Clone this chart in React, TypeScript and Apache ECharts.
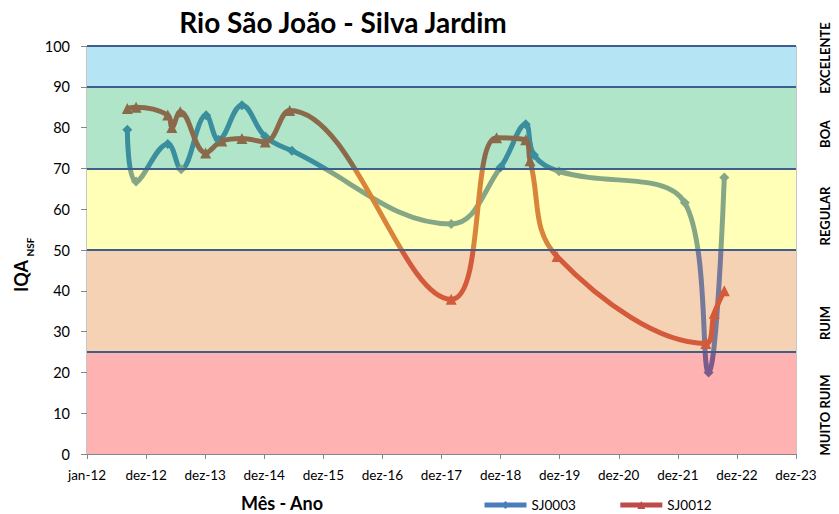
import React, { useEffect, useRef } from "react";
import * as echarts from "echarts";

const bandLimits = [0, 25, 50, 70, 90, 100];
const bandColors = ["#FFB2B2", "#F5D2B4", "#FFFFB7", "#B0E5CA", "#B5E5F5"];
const bandLabels = ["MUITO RUIM", "RUIM", "REGULAR", "BOA", "EXCELENTE"];

const sj0003Dates = [
  "2012-09-06", "2012-10-30", "2013-05-14", "2013-08-05", "2014-01-06", "2014-03-23",
  "2014-08-15", "2015-01-06", "2015-06-20", "2018-02-28", "2018-12-30", "2019-06-03",
  "2019-07-24", "2019-12-26", "2022-02-10", "2022-07-07", "2022-10-12",
];
const sj0003Values = [79.5, 66.8, 76, 69.8, 83, 77, 85.5, 77.8, 74.3, 56.4, 70.3, 80.8, 73.3, 69.3, 61.6, 20, 67.8];

const sj0012Dates = [
  "2012-09-06", "2012-10-30", "2013-05-14", "2013-06-08", "2013-07-30", "2014-01-03",
  "2014-04-13", "2014-08-15", "2015-01-06", "2015-06-06", "2018-02-28", "2018-12-05",
  "2019-06-03", "2019-06-30", "2019-12-14", "2022-06-20", "2022-08-11", "2022-10-12",
];
const sj0012Values = [84.7, 85, 83.1, 80, 83.9, 73.8, 76.7, 77.3, 76.5, 84.2, 37.9, 77.5, 77, 71.9, 48.4, 27.1, 34.5, 40];

const sj0003BandLineColors = ["#7B5A8C", "#77799A", "#85A786", "#3A8E9E", "#3A8EB0"];
const sj0012BandLineColors = ["#C9504A", "#D35A3A", "#D8843A", "#8A6A4A", "#8A6A4A"];

const MONTHS = ["jan", "fev", "mar", "abr", "mai", "jun", "jul", "ago", "set", "out", "nov", "dez"];
const ORIGIN = Date.UTC(2012, 0, 1);
const DAY = 86400000;
const toDay = (d: string) => (Date.parse(d) - ORIGIN) / DAY;
const FONT = "Lato, 'Open Sans', sans-serif";

function pieces(colors: string[]) {
  return colors.map((c, i) => ({ gte: bandLimits[i], lt: i === colors.length - 1 ? 1000 : bandLimits[i + 1], color: c }));
}

export default function App() {
  const ref = useRef<HTMLDivElement>(null);
  useEffect(() => {
    if (!ref.current) return;
    const chart = echarts.init(ref.current, null, { renderer: "svg" });
    const s1 = sj0003Dates.map((d, i) => [toDay(d), sj0003Values[i]]);
    const s2 = sj0012Dates.map((d, i) => [toDay(d), sj0012Values[i]]);
    const bands = bandColors.map((c, i) => [
      { yAxis: bandLimits[i], itemStyle: { color: c } },
      { yAxis: bandLimits[i + 1] },
    ]);
    const labelY = [415, 323, 216, 134, 58];
    chart.setOption({
      animation: false,
      backgroundColor: "#ffffff",
      grid: { left: 87, right: 43, top: 46, bottom: 60, show: true, borderColor: "#8C8C8C", borderWidth: 1, backgroundColor: "transparent", outerBoundsMode: "none" },
      xAxis: {
        type: "value", min: 0, max: 4380, interval: 365,
        axisLine: { show: true, lineStyle: { color: "#868686", width: 1 } },
        axisTick: { show: true, length: 5, lineStyle: { color: "#868686" } },
        splitLine: { show: false },
        axisLabel: {
          show: true, margin: 14, color: "#000", fontSize: 13.5, fontFamily: FONT,
          showMinLabel: true, showMaxLabel: true, hideOverlap: false,
          formatter: (v: number) => {
            const dt = new Date(ORIGIN + v * DAY);
            return MONTHS[dt.getUTCMonth()] + "-" + String(dt.getUTCFullYear()).slice(2);
          },
        },
      },
      yAxis: {
        type: "value", min: 0, max: 100, interval: 10,
        axisLine: { show: true, lineStyle: { color: "#868686", width: 1 } },
        axisTick: { show: true, length: 6, lineStyle: { color: "#868686" } },
        splitLine: { show: false },
        axisLabel: { margin: 17, color: "#000", fontSize: 14.5, fontFamily: FONT },
      },
      visualMap: [
        { type: "piecewise", show: false, seriesIndex: 1, dimension: 1, pieces: pieces(sj0003BandLineColors) },
        { type: "piecewise", show: false, seriesIndex: 2, dimension: 1, pieces: pieces(sj0012BandLineColors) },
      ],
      legend: {
        left: 477, top: 493, itemWidth: 42, itemHeight: 10, itemGap: 42,
        textStyle: { fontSize: 13.5, fontFamily: FONT, color: "#000" },
        data: [
          { name: "SJ0003", itemStyle: { color: "#4A7EBB" }, lineStyle: { color: "#4A7EBB", width: 5 } },
          { name: "SJ0012", itemStyle: { color: "#BE4B48" }, lineStyle: { color: "#BE4B48", width: 5 } },
        ],
      },
      series: [
        {
          name: "bands", type: "line", data: [], silent: true,
          markArea: { silent: true, data: bands },
          markLine: {
            silent: true, symbol: ["none", "none"], label: { show: false },
            lineStyle: { color: "#3E5E8E", width: 2, type: "solid" },
            data: [{ yAxis: 25 }, { yAxis: 50 }, { yAxis: 70 }, { yAxis: 90 }, { yAxis: 100 }],
          },
        },
        {
          name: "SJ0003", type: "line", data: s1, smooth: 0.4,
          symbol: "diamond", symbolSize: 10,
          lineStyle: { width: 5 },
          itemStyle: { color: "#4A7EBB" },
        },
        {
          name: "SJ0012", type: "line", data: s2, smooth: 0.4,
          symbol: "triangle", symbolSize: 11,
          lineStyle: { width: 5 },
          itemStyle: { color: "#BE4B48" },
        },
      ],
      graphic: [
        { type: "text", x: 343, y: 22, style: { text: "Rio São João - Silva Jardim", fontSize: 28, fontWeight: "bold", fontFamily: FONT, fill: "#000", align: "center", verticalAlign: "middle" } },
        { type: "text", x: 21, y: 276, rotation: Math.PI / 2, style: { text: "IQA", fontSize: 18, fontWeight: "bold", fontFamily: FONT, fill: "#000", align: "center", verticalAlign: "middle" } },
        { type: "text", x: 30, y: 247, rotation: Math.PI / 2, style: { text: "NSF", fontSize: 10, fontWeight: "bold", fontFamily: FONT, fill: "#000", align: "center", verticalAlign: "middle" } },
        { type: "text", x: 282, y: 503, style: { text: "Mês - Ano", fontSize: 18, fontWeight: "bold", fontFamily: FONT, fill: "#000", align: "center", verticalAlign: "middle" } },
        ...bandLabels.map((t, i) => ({
          type: "text", x: 825, y: labelY[i], rotation: Math.PI / 2,
          style: { text: t, fontSize: 13, fontWeight: "bold", fontFamily: FONT, fill: "#000", align: "center", verticalAlign: "middle" },
        })),
      ],
    });
    return () => chart.dispose();
  }, []);
  return <div ref={ref} style={{ position: "fixed", left: 0, top: 0, width: 839, height: 514 }} />;
}
